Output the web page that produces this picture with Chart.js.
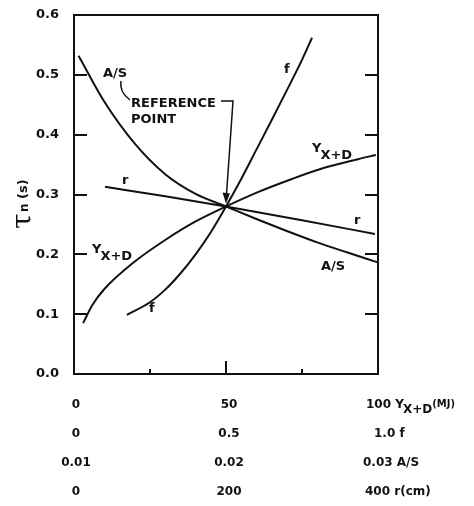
<!DOCTYPE html>
<html>
<head>
<meta charset="utf-8">
<script src="https://cdn.jsdelivr.net/npm/chart.js@4.4.0/dist/chart.umd.min.js"></script>
<style>
  html, body { margin: 0; padding: 0; background: #fff; }
  #wrap { width: 474px; height: 506px; }
</style>
</head>
<body>
<div id="wrap"><canvas id="tauChart"></canvas></div>
<script>
// Sensitivity of tau_n to each parameter, all plotted on a common 0-100 abscissa
const asX   = [1.5, 10, 20, 30, 40, 50, 60, 70, 80, 90, 99.7];
const asTau = [0.532, 0.455, 0.385, 0.334, 0.301, 0.28, 0.259, 0.239, 0.220, 0.203, 0.187];

const rX   = [10.2, 30, 50, 75, 99];
const rTau = [0.313, 0.297, 0.28, 0.257, 0.234];

const yxdX   = [3, 6, 10, 20, 30, 40, 50, 60.5, 71.7, 82.6, 93.4, 99.3];
const yxdTau = [0.085, 0.115, 0.142, 0.188, 0.224, 0.255, 0.28, 0.304, 0.326, 0.345, 0.359, 0.366];

const fX   = [17.4, 25, 30, 35, 40, 45, 50, 55, 60, 65, 70, 75, 78.3];
const fTau = [0.099, 0.12, 0.141, 0.168, 0.200, 0.237, 0.28, 0.326, 0.375, 0.424, 0.474, 0.525, 0.562];

// tick labels
const yTicks = [0, 0.1, 0.2, 0.3, 0.4, 0.5, 0.6];
const xMinor = [25, 75];
const scaleLeft  = ['0', '0', '0.01', '0'];
const scaleMid   = ['50', '0.5', '0.02', '200'];
const scaleRight = ['100', '1.0', '0.03', '400'];

const INK = '#111';
const FONT = '"DejaVu Sans", sans-serif';

function pts(xs, ys) {
  return xs.map((x, i) => ({ x: x, y: ys[i] }));
}

function curve(data) {
  return {
    data: data,
    showLine: true,
    borderColor: INK,
    borderWidth: 2,
    pointRadius: 0,
    cubicInterpolationMode: 'monotone',
    fill: false
  };
}

// text with a subscript tail, e.g. Y_{X+D}
function subText(ctx, base, sub, x, y, size, drop) {
  ctx.font = 'bold ' + size + 'px ' + FONT;
  ctx.textAlign = 'left';
  ctx.fillText(base, x, y);
  const w = ctx.measureText(base).width;
  ctx.fillText(sub, x + w - 1, y + drop);
  return x + w - 1 + ctx.measureText(sub).width;
}

const decorations = {
  id: 'decorations',
  afterDraw(chart) {
    const ctx = chart.ctx;
    const a = chart.chartArea;
    const xs = chart.scales.x, ys = chart.scales.y;
    ctx.save();
    ctx.strokeStyle = INK;
    ctx.fillStyle = INK;
    ctx.lineWidth = 2;

    // frame
    ctx.strokeRect(a.left, a.top, a.right - a.left, a.bottom - a.top);

    // inward ticks on both vertical sides
    ctx.beginPath();
    yTicks.slice(1, -1).forEach(v => {
      const py = Math.round(ys.getPixelForValue(v));
      ctx.moveTo(a.left, py); ctx.lineTo(a.left + 13, py);
      ctx.moveTo(a.right, py); ctx.lineTo(a.right - 13, py);
    });
    // bottom ticks
    xMinor.forEach(v => {
      const px = Math.round(xs.getPixelForValue(v));
      ctx.moveTo(px, a.bottom); ctx.lineTo(px, a.bottom - 5);
    });
    const mid = Math.round(xs.getPixelForValue(50));
    ctx.moveTo(mid, a.bottom); ctx.lineTo(mid, a.bottom - 13);
    ctx.stroke();

    // curve labels
    ctx.textBaseline = 'alphabetic';
    ctx.font = 'bold 13px ' + FONT;
    ctx.textAlign = 'left';
    ctx.fillText('A/S', 103, 77);
    ctx.fillText('f', 284, 73);
    ctx.fillText('r', 354, 224);
    ctx.fillText('A/S', 321, 270);
    ctx.fillText('r', 122, 184);
    ctx.fillText('f', 149, 312);
    subText(ctx, 'Y', 'X+D', 312, 152, 13, 7);
    subText(ctx, 'Y', 'X+D', 92, 253, 13, 7);

    // reference point callout
    ctx.font = 'bold 13px ' + FONT;
    ctx.fillText('REFERENCE', 131, 107);
    ctx.fillText('POINT', 131, 123);
    ctx.lineWidth = 1.5;
    ctx.beginPath();
    ctx.moveTo(121, 81);
    ctx.quadraticCurveTo(119, 92, 130, 100);
    ctx.stroke();
    const rx = xs.getPixelForValue(50), ry = ys.getPixelForValue(0.28);
    ctx.beginPath();
    ctx.moveTo(221, 101);
    ctx.lineTo(233, 101);
    ctx.lineTo(rx + 0.5, ry - 12);
    ctx.stroke();
    ctx.beginPath();
    ctx.moveTo(rx - 3.5, ry - 14);
    ctx.lineTo(rx + 4, ry - 13);
    ctx.lineTo(rx, ry - 3);
    ctx.closePath();
    ctx.fill();

    // stacked abscissa scales
    const rowY = [408, 437, 466, 495];
    const x0 = xs.getPixelForValue(0) + 2;
    const x50 = xs.getPixelForValue(50) + 3;
    const x100 = xs.getPixelForValue(100) - 12;
    ctx.font = 'bold 12px ' + FONT;
    rowY.forEach((y, i) => {
      ctx.textAlign = 'center';
      ctx.fillText(scaleLeft[i], x0, y);
      ctx.fillText(scaleMid[i], x50, y);
    });
    ctx.textAlign = 'left';
    let ex = subText(ctx, scaleRight[0] + ' Y', 'X+D', x100, rowY[0], 12, 5);
    ctx.font = 'bold 10px ' + FONT;
    ctx.fillText('(MJ)', ex, rowY[0] - 1);
    ctx.font = 'bold 12px ' + FONT;
    ctx.fillText(scaleRight[1] + ' f', x100 + 8, rowY[1]);
    ctx.fillText(scaleRight[2] + ' A/S', x100 - 3, rowY[2]);
    ctx.fillText(scaleRight[3] + ' r(cm)', x100 - 1, rowY[3]);

    // ordinate title, tau subscript n, rotated
    ctx.translate(28, 205);
    ctx.rotate(-Math.PI / 2);
    ctx.textAlign = 'left';
    ctx.font = '28px "DejaVu Serif", serif';
    ctx.fillText('\u03C4', -24, 3);
    ctx.font = 'bold 12px ' + FONT;
    ctx.fillText('n', -7, 0);
    ctx.font = 'bold 13px ' + FONT;
    ctx.fillText('(s)', 6, -1);
    ctx.restore();
  }
};

new Chart(document.getElementById('tauChart'), {
  type: 'scatter',
  data: {
    datasets: [
      curve(pts(asX, asTau)),
      curve(pts(rX, rTau)),
      curve(pts(yxdX, yxdTau)),
      curve(pts(fX, fTau))
    ]
  },
  options: {
    responsive: true,
    maintainAspectRatio: false,
    animation: false,
    devicePixelRatio: 1,
    layout: { padding: { left: 0, top: 15, right: 96, bottom: 132 } },
    plugins: { legend: { display: false }, tooltip: { enabled: false } },
    scales: {
      x: { type: 'linear', min: 0, max: 100, display: false },
      y: {
        type: 'linear',
        min: 0,
        max: 0.6,
        afterFit: s => { s.width = 74; },
        afterBuildTicks: s => { s.ticks = yTicks.map(v => ({ value: v })); },
        grid: { display: false },
        border: { display: false },
        ticks: {
          color: INK,
          padding: 7,
          font: { family: FONT, size: 13, weight: 'bold' },
          callback: v => v.toFixed(1)
        }
      }
    }
  },
  plugins: [decorations]
});
</script>
</body>
</html>
